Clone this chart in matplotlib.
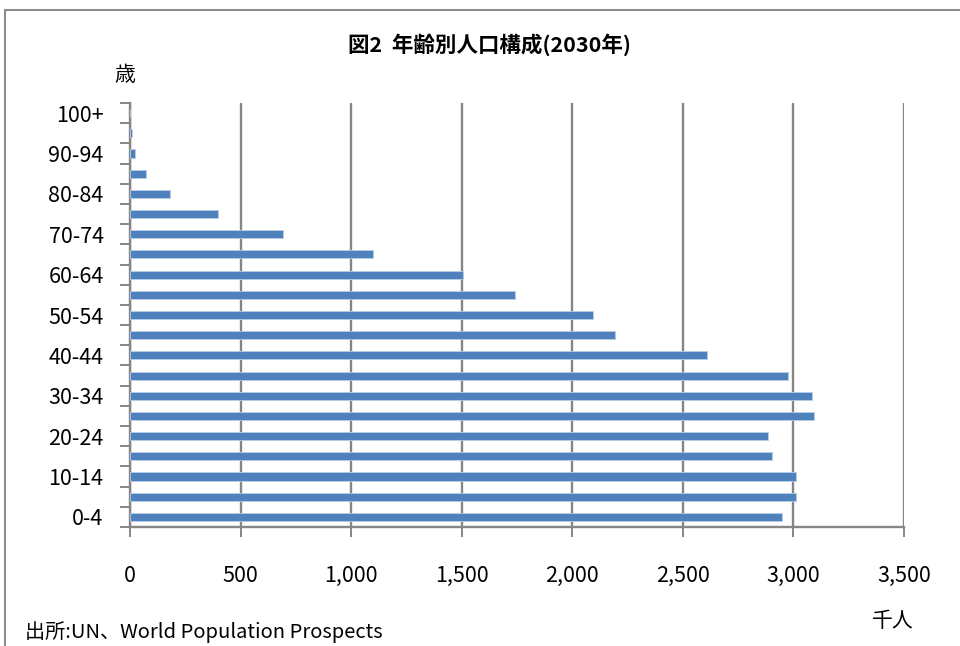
import numpy as np
import matplotlib
matplotlib.use('Agg')
import matplotlib.pyplot as plt
from matplotlib.patches import Rectangle
from matplotlib.ticker import FuncFormatter

plt.rcParams['font.family'] = ['Noto Sans CJK JP', 'DejaVu Sans']

# age groups, bottom to top
ages = ['0-4', '5-9', '10-14', '15-19', '20-24', '25-29', '30-34', '35-39',
        '40-44', '45-49', '50-54', '55-59', '60-64', '65-69', '70-74',
        '75-79', '80-84', '85-89', '90-94', '95-99', '100+']
# population 2030, thousand people
pop = [2950, 3012, 3012, 2903, 2886, 3093, 3084, 2977,
       2608, 2192, 2093, 1741, 1504, 1098, 690,
       400, 183, 74, 22, 10, 1]
xticks = [0, 500, 1000, 1500, 2000, 2500, 3000, 3500]

fig = plt.figure(figsize=(9.6, 6.46), dpi=100)
ax = fig.add_axes([130/960, 1-527/646, 774/960, 424/646])

y = np.arange(len(ages))
ax.barh(y, pop, height=0.4, color='#4F81BD', edgecolor='#B9CDE5', linewidth=0.6, zorder=3)

ax.set_xlim(0, 3500)
ax.set_ylim(-0.5, len(ages) - 0.5)
ax.set_xticks(xticks)
ax.xaxis.set_major_formatter(FuncFormatter(lambda v, p: '{:,}'.format(int(v))))
ax.grid(axis='x', color='#868686', linewidth=1.7, zorder=0)

# labels every other group, ticks on group boundaries
ax.set_yticks(y[::2])
ax.set_yticklabels(ages[::2])
ax.set_yticks(np.arange(-0.5, len(ages)), minor=True)
ax.tick_params(axis='y', which='major', length=0, pad=19, labelsize=15.5)
ax.tick_params(axis='y', which='minor', length=7, width=1.4, color='#868686')
ax.tick_params(axis='x', which='major', length=7, width=1.4, color='#868686', pad=20, labelsize=15.5)

for s in ['top', 'right']:
    ax.spines[s].set_visible(False)
for s in ['left', 'bottom']:
    ax.spines[s].set_color('#868686')
    ax.spines[s].set_linewidth(1.7)

fig.text(490/960, 1-45/646, '図2  年齢別人口構成(2030年)', ha='center', va='center',
         fontsize=15.5, fontweight='bold')
fig.text(125/960, 1-75/646, '歳', ha='center', va='center', fontsize=15)
fig.text(893/960, 1-621/646, '千人', ha='center', va='center', fontsize=15)
fig.text(25/960, 1-632/646, '出所:UN、World Population Prospects', ha='left', va='center',
         fontsize=14.5)

# chart frame
fig.patches.append(Rectangle((5/960, -0.1), 1.2, 1 - 10/646 + 0.1, transform=fig.transFigure,
                             fill=False, edgecolor='#8C8C8C', linewidth=1.5))

fig.savefig('out.png', dpi=100)
